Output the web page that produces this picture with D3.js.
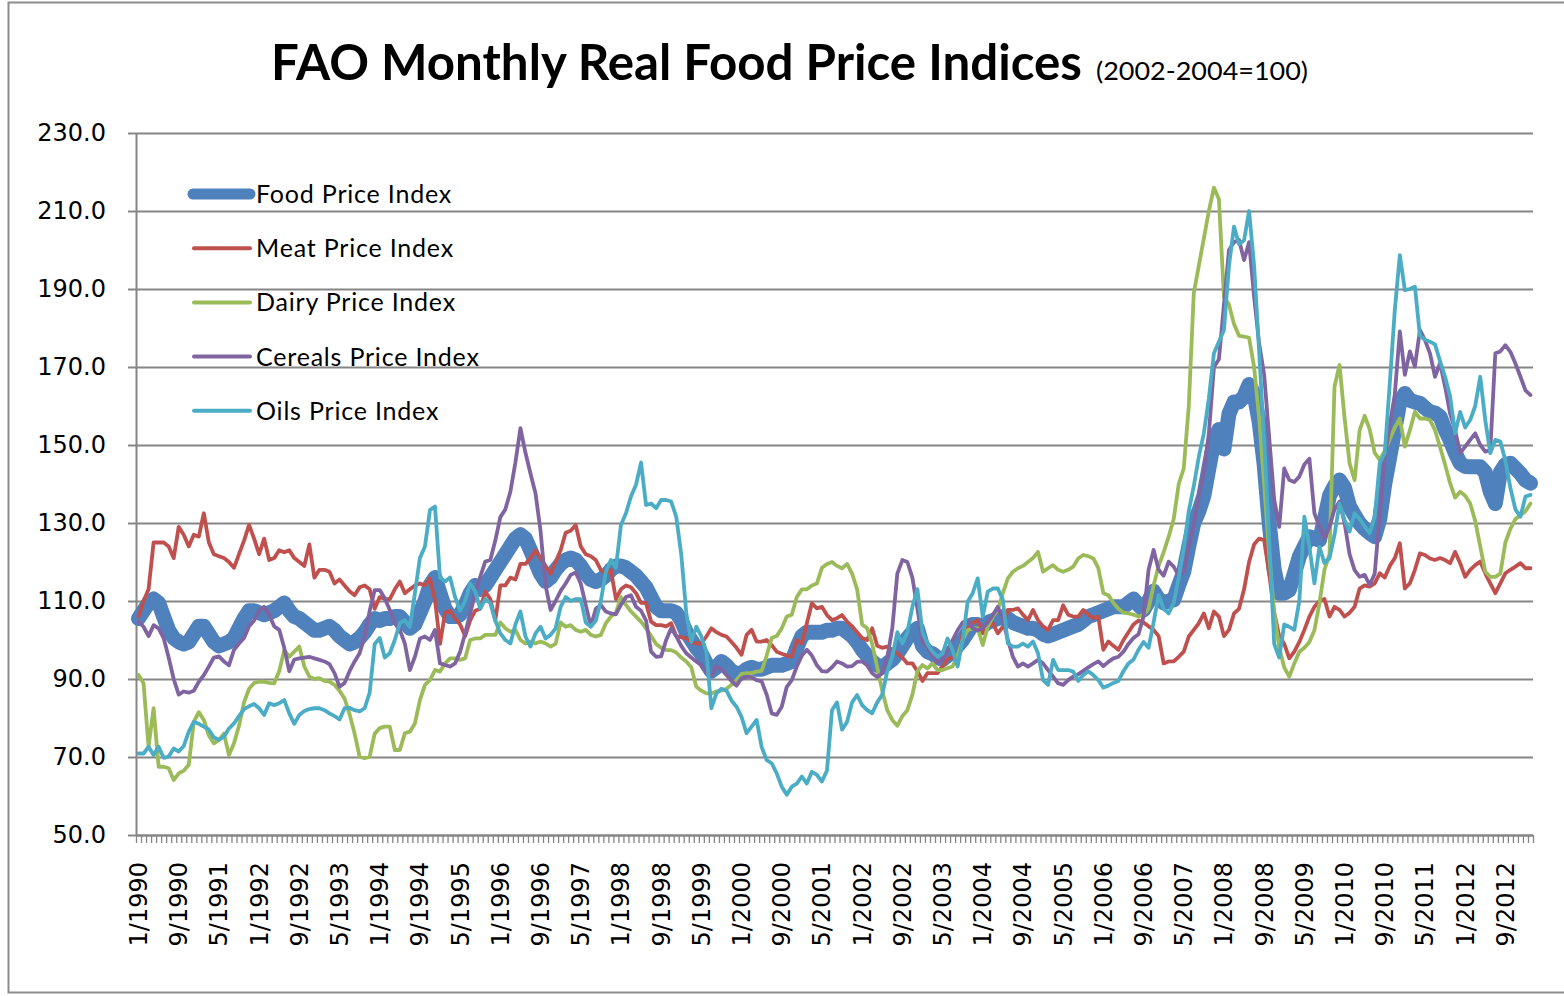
<!DOCTYPE html>
<html>
<head>
<meta charset="utf-8">
<script src="https://cdn.jsdelivr.net/npm/d3@7"></script>
<style>
  body { margin: 0; background: #fff; }
  svg { display: block; }
</style>
</head>
<body>
<div id="chart"></div>
<script>
(function() {
  'use strict';

  // monthly values, 1/1990 .. 2/2013 (one row per year)
  var food = [
    105.5, 107.5, 109.5, 110.5, 109.5, 106, 102.5, 100.5, 99.5, 99, 99.5, 101.5,
    103.5, 103.5, 101.5, 99.5, 98.5, 99, 99.5, 100.5, 103, 105.5, 107.5, 107.5,
    107, 106.5, 107, 107.5, 108.5, 109.5, 107.5, 106, 105.5, 104.5, 103.5, 102.5,
    102.5, 103, 103.5, 102.5, 101, 100, 99, 99.5, 100.5, 102, 104, 105.5,
    105, 105.5, 105.5, 106, 106, 104.5, 103, 104, 107, 110, 114, 116,
    112, 108, 106, 106, 106.5, 109, 112, 114, 113, 114, 116, 118,
    120, 122, 124, 126, 127, 126, 123, 120, 117, 115, 116, 118,
    119.5, 120.5, 121, 120.5, 119, 117, 115.5, 115, 115.5, 116.5, 118, 119,
    119, 118.5, 117.5, 116.5, 115, 113.5, 111, 108.5, 107.5, 107.5, 107.5, 107,
    105, 102, 100, 98, 96.5, 94, 92, 93, 94.5, 93.5, 92, 91.5,
    91.5, 92.5, 93, 92.5, 92.5, 93, 93.5, 93.5, 93.5, 94, 94.5, 98,
    101, 102, 102, 102, 102, 102.5, 102.5, 103, 103, 102, 101, 99.5,
    97.5, 96, 94.5, 93.5, 93, 94, 95, 96.5, 98.5, 100.5, 102, 103,
    98.5, 97, 96.5, 95.5, 95, 96, 97, 98.5, 100, 102, 104, 104,
    103.5, 104.5, 105, 105.5, 106, 105.5, 104.5, 104, 103.5, 103, 103, 102.5,
    101.5, 101, 101.5, 102, 102.5, 103, 103.5, 104, 105, 106, 106.5, 107,
    107.5, 108, 108.5, 108.5, 108.5, 109.5, 110.5, 109, 107.7, 110, 112.5, 110.5,
    109.5, 110, 110.3, 114, 117.5, 124, 130, 133, 137, 144, 151, 154,
    149, 158, 161, 161, 162.5, 165.5, 163, 156, 145, 130, 118, 112,
    112, 112.8, 117, 121.4, 124, 126.5, 126, 125.6, 131, 137, 139.5, 141,
    139, 134.2, 132, 129.9, 128.5, 127.4, 126.5, 131, 140, 147, 154, 161,
    163.2, 161.5, 161, 160.7, 159.5, 158.5, 158.2, 157.3, 154, 151.3, 148, 145.3,
    144.5, 144.4, 144.4, 144.4, 143, 138, 135, 143, 145, 145.3, 144, 142.7,
    141, 140.2
  ];

  var meat = [
    106, 110, 113, 125, 125, 125, 124, 121, 129, 127, 124, 127,
    126.5, 132.5, 125, 122, 121.5, 121, 120, 118.5, 122, 125.5, 129.5, 126,
    122, 126, 120.5, 121, 123, 122.5, 123, 121, 120, 119, 124.5, 116,
    118, 118, 117.5, 114.5, 115.5, 114, 112.5, 111.5, 113.5, 114, 113, 108,
    111, 110.5, 110.5, 113, 115, 112, 113, 114, 114.5, 114, 115.8, 110.3,
    99, 107, 107.5, 105.5, 104, 101, 105, 107.5, 108, 112.4, 110.5, 105,
    114, 114, 116, 115.5, 119.5, 119.5, 121, 123, 121, 119, 117, 120,
    123, 127.5, 128, 129.5, 124, 122, 121.5, 120.5, 118, 117, 118, 110.5,
    113, 114, 113.5, 112, 109.5, 109.5, 104.7, 103.8, 103.8, 103.5, 104.3, 101,
    100.7, 100.5, 99.5, 99.1, 99.1, 100.9, 103, 102, 101.3, 100.9, 99.5, 98,
    96.2, 101.3, 102.6, 99.6, 99.6, 100, 98.7, 97, 96.5, 96, 95.7, 100,
    99.1, 104.3, 109.4, 108.1, 108.5, 106.4, 105.1, 105.6, 106.4, 104.7, 103.5, 102,
    100.5, 100, 103, 98.5, 98, 98.3, 97.5, 96.6, 95.5, 94, 94, 92,
    89.5, 91.5, 91.5, 91.5, 93.2, 95, 95.7, 94, 101.7, 103, 104.3, 105.1,
    101.7, 103.4, 104.3, 101.7, 103.4, 107.7, 107.7, 108.1, 106.5, 105.1, 107.7, 105.1,
    103.5, 102.6, 105.1, 105.1, 108.9, 106.5, 106, 106, 107.7, 106.5, 105.6, 106,
    97.5, 99.6, 98.5, 97.5, 100, 102, 104, 105, 104.5, 103.5, 102.6, 101,
    94, 94.5, 94.5, 95.7, 97, 100.9, 102.6, 104.3, 106.8, 103, 107.3, 106,
    101, 102.6, 106.8, 108, 113, 120, 124.5, 126, 125.6, 117, 107, 101,
    99, 95.3, 97, 99.5, 102.6, 106, 108.5, 110, 110.5, 106, 108.5, 107.7,
    106, 107, 108.5, 113.2, 114, 113.7, 114.5, 117.1, 116, 119, 121, 124.8,
    113.2, 114.5, 118, 122.2, 121.8, 120.9, 120.5, 121, 120.5, 119.7, 122.6, 119.7,
    116.2, 118, 119.2, 120.1, 117.1, 114.5, 112, 114.5, 117.1, 118, 118.8, 119.7,
    118.4, 118.4
  ];

  var dairy = [
    91, 88.9, 72.6, 82.5, 67.5, 67.5, 67.1, 64.1, 65.8, 66.5, 68, 79,
    81.5, 79.5, 75.5, 73.5, 74.4, 76, 70.5, 73.5, 78, 84, 87.5, 89,
    89.3, 89.3, 89, 88.9, 92, 97.4, 95.7, 97, 98.3, 93.2, 90.6, 90,
    90.2, 89.5, 89.3, 88.5, 87, 85, 81, 76, 70.1, 69.7, 70.1, 76,
    77.4, 77.8, 77.8, 71.8, 71.8, 76.1, 76.5, 78.6, 84.6, 88.5, 89.7, 92.3,
    91.9, 94, 95.3, 95.3, 94.9, 95.3, 100, 100.4, 100.4, 101.3, 101.3, 101.3,
    104.5, 103, 102.1, 102.6, 100, 99.1, 99.6, 99.1, 99.6, 99.1, 98.3, 99,
    104.5, 103.4, 103.8, 102.6, 102.1, 102.6, 101.3, 100.9, 101.3, 104.3, 106, 107,
    111, 109, 107.3, 106, 104.7, 103, 101, 99, 98, 97.4, 97.4, 96.8,
    95.5, 94.5, 93, 88, 87, 86.3, 86.3, 86.8, 87, 87.5, 88.5, 89.7,
    91.3, 91.5, 91.5, 91.9, 92.1, 96, 100.5, 101, 103, 106, 106.5, 111,
    113, 113, 114, 114.5, 118.5, 119.5, 120, 119, 118.4, 119.5, 117, 113,
    104, 103, 99, 93, 87, 82, 79.5, 78, 80.5, 82, 86, 92,
    93.6, 92.7, 94, 92.3, 92.3, 92.8, 93.2, 96, 100, 102.5, 103, 103,
    98.7, 103.4, 106, 107.7, 112, 115.8, 117.5, 118.4, 119, 120, 121, 122.6,
    117.5, 118.4, 119.2, 118, 117.5, 118, 118.8, 120.9, 121.8, 121.5, 120.9, 118.4,
    112, 111.5, 109.5, 108, 107, 106.8, 106.5, 106, 106.5, 108, 114, 119,
    122.5, 126.5, 131, 140, 144, 160, 189, 196, 203, 210, 216, 213,
    188, 186, 181, 178, 177.8, 177.5, 170, 157, 140, 122, 107, 98,
    93, 90.6, 94, 97, 98, 99.5, 102.5, 109.4, 118, 122, 165, 170.5,
    157, 145.3, 141, 153.8, 157.5, 154, 148, 146.2, 148.5, 151.5, 154.5, 156.8,
    149.6, 153.8, 158.5, 156.8, 156.8, 156.4, 153.8, 149.5, 145, 140.2, 136.5, 138,
    137, 135, 130.5, 124, 117.5, 116.2, 116.2, 117, 125, 128.5, 131, 132,
    133, 135
  ];

  var cereals = [
    104.7, 103.4, 101, 103.8, 103, 100.5, 95.5, 90, 86, 86.8, 86.5, 87,
    89.3, 91, 93.2, 95.5, 95.8, 94.5, 93.5, 97.5, 99.1, 100.5, 103.5, 105,
    107.5, 108.5, 106.5, 103.5, 102.6, 98, 92, 95, 95.3, 95.5, 95.7, 95.3,
    94.9, 94.5, 93.8, 91.5, 88, 89, 92, 94.5, 96.6, 100.9, 107.5, 112.8,
    112.8, 110.7, 107.7, 104.3, 102.6, 99.1, 92.3, 95.7, 100.4, 100.9, 100, 102.6,
    94, 93.6, 93.2, 94, 97, 101.7, 106.8, 112, 116.2, 120.1, 120.5, 125.5,
    131.5, 133.5, 138, 145.5, 154.3, 148, 142.7, 137.6, 128, 114, 107.7, 110,
    112.6, 114.5, 116.7, 117.3, 114.5, 109, 103.5, 108, 109, 107.3, 106.8, 106.6,
    109, 111, 111.5, 108.5, 107.5, 105, 97, 95.7, 95.8, 100, 103, 101,
    98.5, 96.6, 95.5, 94.5, 93.5, 91.5, 90.8, 93.2, 92.5, 91, 89.5, 88.3,
    90.2, 90.6, 90.5, 89.7, 89.4, 86, 81.2, 80.8, 82.9, 88, 89.7, 93.2,
    96, 97.5, 96, 93.5, 92, 91.9, 93, 94.5, 94, 93.2, 93.3, 94.4,
    94.5, 93.5, 91.5, 90.5, 91.5, 95.5, 103, 117, 120.5, 120, 116, 108,
    99.5, 98.3, 96, 94.2, 95, 97.5, 100, 102.5, 104.5, 105.1, 103, 102.5,
    103, 104.5, 106.4, 108.5, 105.1, 100, 95.7, 93.2, 94, 93.2, 94, 94.9,
    94, 92.3, 90.6, 88.9, 88.5, 89.7, 90.6, 91.2, 92.1, 93, 93.8, 94.5,
    93.3, 94.4, 95.3, 95.7, 97, 99, 100.5, 101.5, 106, 118, 123.1, 118,
    116.5, 120.1, 118.8, 116.5, 117.5, 124, 129.5, 137, 143, 153, 170, 172,
    186, 200, 202, 202.6, 197.4, 202, 188, 176, 168, 152, 136, 129,
    144, 141, 140.5, 141.9, 145, 146.5, 132.5, 129.1, 126, 129, 133.5, 135.5,
    130, 122, 117.9, 116.2, 116.7, 114.1, 117, 132, 147, 155, 163, 179.1,
    168, 174, 170.1, 179.5, 176.9, 173.5, 167.5, 171, 165, 158.1, 153.8, 147.9,
    149.6, 151.3, 153, 150, 148.3, 148.7, 173.5, 174, 175.6, 173.9, 170.9, 167.5,
    164, 162.8
  ];

  var oils = [
    70.9, 70.9, 72.6, 70.5, 72.6, 69.8, 70.1, 72.2, 71.4, 72.8, 76.5, 79,
    78.5, 77.8, 77, 75, 74.4, 75.2, 77.3, 78.6, 80.5, 82.3, 83, 83.6,
    82.5, 80.8, 83.8, 83.3, 83.8, 84.6, 81.2, 78.5, 80.8, 81.8, 82.3, 82.5,
    82.5, 82, 81.2, 80.5, 79.6, 82.5, 82.6, 82, 81.7, 82.5, 86.5, 99,
    100.5, 95.5, 96.6, 100, 104.3, 105.1, 103.4, 112, 121, 124, 133.3, 134.2,
    116, 115, 116, 111, 107.5, 110, 114.5, 112.5, 108, 110.5, 109.5, 105,
    101.7, 100, 99.1, 104, 107.3, 100.9, 98.3, 101.7, 103.4, 100.4, 101.3, 103,
    108.5, 111, 110, 110.5, 110.5, 104.5, 103.4, 105, 110, 117.5, 120.5, 118.5,
    129.5, 132.5, 136.8, 139.8, 145.5, 134.6, 135, 133.8, 135.9, 135.9, 135.5, 131.6,
    122, 107, 99.5, 103.4, 100.9, 97, 82.5, 86.3, 87.5, 87, 84.5, 82.9,
    80.3, 76.1, 77.8, 79.5, 72.6, 69.2, 68.4, 65.8, 62.4, 60.3, 62.4, 63.2,
    65, 63.2, 66.2, 65.4, 63.7, 66.5, 82, 84, 77, 79, 84, 85.9,
    83.3, 82, 81.2, 84, 86, 92, 95.7, 102, 99.1, 102, 108.5, 113,
    102, 99, 97, 95.7, 96.5, 100.4, 97.4, 93.2, 100, 109.8, 112, 115.8,
    106, 112.4, 113.2, 113.2, 110.3, 99.1, 98.3, 98.3, 99.1, 98.3, 99.6, 96.6,
    89.7, 88.5, 94.9, 92.3, 92.3, 92.3, 91.9, 89.5, 91, 92, 91, 89.7,
    87.8, 88.3, 89, 89.5, 92, 94, 95, 97.5, 99.5, 98, 104.5, 111.5,
    108, 106.8, 109.5, 116, 123.5, 133, 139.5, 147, 153, 162, 173.5, 176.5,
    179.5, 196, 206, 201.5, 202.5, 210, 196, 174, 151, 126, 99, 95.5,
    104, 103.4, 102.6, 110, 131.6, 123.9, 114.5, 123.9, 119.7, 121, 127, 135,
    130.8, 127.8, 132.5, 131, 129.1, 127.4, 131.6, 145.3, 147.9, 165.8, 184.6, 198.7,
    189.7, 190, 190.6, 178, 177, 176.5, 175.8, 171.5, 167.5, 162.5, 153, 158.5,
    154.5, 156.4, 160, 167.5, 156.4, 147.9, 151.3, 150.9, 146, 139, 133.5, 131.6,
    136.8, 137.2
  ];

  var seriesNames = ['Food Price Index', 'Meat Price Index', 'Dairy Price Index',
    'Cereals Price Index', 'Oils Price Index'];
  var seriesColors = ['#4f81bd', '#c0504d', '#9bbb59', '#8064a2', '#4bacc6'];
  var seriesWidths = [15, 3.8, 3.8, 3.8, 3.8];
  var legendWidths = [11, 4, 4, 4, 4];
  var seriesValues = [food, meat, dairy, cereals, oils];

  var yTicks = [50, 70, 90, 110, 130, 150, 170, 190, 210, 230];
  var tickLabels = ['1/1990', '9/1990', '5/1991', '1/1992', '9/1992', '5/1993',
    '1/1994', '9/1994', '5/1995', '1/1996', '9/1996', '5/1997', '1/1998',
    '9/1998', '5/1999', '1/2000', '9/2000', '5/2001', '1/2002', '9/2002',
    '5/2003', '1/2004', '9/2004', '5/2005', '1/2006', '9/2006', '5/2007',
    '1/2008', '9/2008', '5/2009', '1/2010', '9/2010', '5/2011', '1/2012',
    '9/2012'];

  // category labels M/YYYY for every month in the data
  var months = [];
  for (var k = 0; k < food.length; k++) {
    months.push((k % 12 + 1) + '/' + (1990 + Math.floor(k / 12)));
  }

  var svg_width = 1564;
  var svg_height = 996;
  var left = 136, right = 1533, top = 133, bottom = 835;
  var grid_color = '#868686';
  var axis_font = '"DejaVu Sans", Verdana, sans-serif';
  var label_font = 'Lato, "Open Sans", sans-serif';

  var svg = d3.select('#chart').append('svg')
    .attr('width', svg_width)
    .attr('height', svg_height);

  svg.append('rect')
    .attr('x', 8.5)
    .attr('y', 2.5)
    .attr('width', 1580)
    .attr('height', 990)
    .attr('fill', '#fff')
    .attr('stroke', '#8c8c8c')
    .attr('stroke-width', 2);

  var x = d3.scaleBand().domain(months).range([left, right]);
  var xEdge = d3.scaleLinear().domain([0, months.length]).range([left, right]);
  var y = d3.scaleLinear().domain([50, 230]).range([bottom, top]);
  var half = x.bandwidth() / 2;

  // horizontal gridlines
  var grid = svg.append('g')
    .attr('transform', 'translate(' + left + ',0)')
    .call(d3.axisLeft(y).tickValues(yTicks).tickSize(-(right - left)).tickFormat(''));
  grid.select('.domain').remove();
  grid.selectAll('line')
    .attr('stroke', grid_color)
    .attr('stroke-width', 2);

  // y axis
  var yAxis = svg.append('g')
    .attr('transform', 'translate(' + left + ',0)')
    .call(d3.axisLeft(y).tickValues(yTicks).tickSize(8).tickSizeOuter(0)
      .tickPadding(22).tickFormat(d3.format('.1f')));
  yAxis.select('.domain').attr('stroke', grid_color).attr('stroke-width', 2);
  yAxis.selectAll('line').attr('stroke', grid_color).attr('stroke-width', 2);
  yAxis.selectAll('text')
    .attr('fill', '#000')
    .style('font-family', axis_font)
    .style('font-size', '24px');

  // month tick marks on the x axis
  var xTicks = svg.append('g')
    .attr('transform', 'translate(0,' + bottom + ')')
    .call(d3.axisBottom(xEdge).tickValues(d3.range(months.length + 1))
      .tickSize(8).tickSizeOuter(0).tickFormat(''));
  xTicks.select('.domain').attr('stroke', grid_color).attr('stroke-width', 2);
  xTicks.selectAll('line').attr('stroke', grid_color).attr('stroke-width', 1.3);

  // x labels, rotated
  var xLabels = svg.append('g')
    .attr('transform', 'translate(0,' + bottom + ')')
    .call(d3.axisBottom(x).tickValues(tickLabels).tickSize(0));
  xLabels.select('.domain').remove();
  xLabels.selectAll('text')
    .attr('transform', 'rotate(-90)')
    .attr('x', -27)
    .attr('y', 0)
    .attr('dy', '0.35em')
    .attr('fill', '#000')
    .style('text-anchor', 'end')
    .style('font-family', axis_font)
    .style('font-size', '24px');

  // series
  var line = d3.line()
    .x(function(d, i) { return x(months[i]) + half; })
    .y(function(d) { return y(d); });

  svg.selectAll('path.series')
    .data(seriesValues)
    .enter()
    .append('path')
    .attr('class', 'series')
    .attr('d', line)
    .attr('fill', 'none')
    .attr('stroke', function(d, i) { return seriesColors[i]; })
    .attr('stroke-width', function(d, i) { return seriesWidths[i]; })
    .attr('stroke-linejoin', 'round')
    .attr('stroke-linecap', 'round');

  // legend
  var legend = svg.selectAll('g.legend')
    .data(seriesNames)
    .enter()
    .append('g')
    .attr('class', 'legend')
    .attr('transform', function(d, i) { return 'translate(0,' + (194 + i * 54.2) + ')'; });

  legend.append('line')
    .attr('x1', function(d, i) { return i === 0 ? 193 : 194; })
    .attr('x2', 250)
    .attr('stroke', function(d, i) { return seriesColors[i]; })
    .attr('stroke-width', function(d, i) { return legendWidths[i]; })
    .attr('stroke-linecap', 'round');

  legend.append('text')
    .attr('x', 256)
    .attr('y', 9)
    .style('font-family', label_font)
    .style('font-size', '25px')
    .style('letter-spacing', '0.8px')
    .text(function(d) { return d; });

  // title
  svg.append('text')
    .attr('x', 271)
    .attr('y', 80)
    .attr('textLength', 811)
    .attr('lengthAdjust', 'spacingAndGlyphs')
    .style('font-family', label_font)
    .style('font-weight', 700)
    .style('font-size', '50px')
    .text('FAO Monthly Real Food Price Indices');
  svg.append('text')
    .attr('x', 1096)
    .attr('y', 80)
    .attr('textLength', 212)
    .attr('lengthAdjust', 'spacingAndGlyphs')
    .style('font-family', label_font)
    .style('font-size', '25px')
    .text('(2002-2004=100)');

})();
</script>
</body>
</html>
